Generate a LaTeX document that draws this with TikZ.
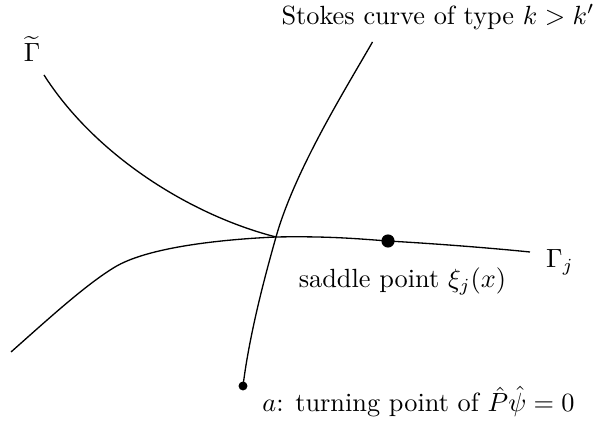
\documentclass[tikz,border=0pt]{standalone}
\usepackage{amsmath}
\begin{document}
\begin{tikzpicture}[x=0.38pt,y=-0.38pt,
  curve/.style={line width=0.5pt},
  lbl/.style={inner sep=0pt},
  bigdot/.style={circle,fill=black,inner sep=0pt,minimum size=5pt},
  smalldot/.style={circle,fill=black,inner sep=0pt,minimum size=3.4pt}]
\useasboundingbox (0,0) rectangle (597,421);
\coordinate (X) at (276,237);
\coordinate (St) at (372.5,42);
\coordinate (Gt) at (44,75);
\coordinate (Gs) at (11,352);
\coordinate (Ge) at (530,252);
\node[smalldot] (a) at (243,386) {};
\node[bigdot] (xi) at (388,241) {};
% Stokes curve
\draw[curve] (St) .. controls (345,90) and (295,170) .. (X)
  .. controls (267,269) and (250,330) .. (a.center);
% Gamma tilde
\draw[curve] (Gt) .. controls (95,155) and (190,215) .. (X);
% Gamma_j
\draw[curve] (Gs) .. controls (45,322) and (85,285) .. (115,267)
  .. controls (145,249) and (210,240) .. (X)
  .. controls (330,236) and (360,239) .. (xi.center)
  .. controls (440,244) and (490,248) .. (Ge);
% labels
\node[lbl] (lst) at (438,17) {Stokes curve of type $k>k'$};
\node[lbl] (lgt) at (32,49) {$\widetilde{\Gamma}$};
\node[lbl] (lgj) at (560,262) {$\Gamma_j$};
\node[lbl] (lxi) at (402.5,281) {saddle point $\xi_j(x)$};
\node[lbl] (la) at (418.5,402) {$a$: turning point of $\hat{P}\hat{\psi}=0$};
\end{tikzpicture}
\end{document}
